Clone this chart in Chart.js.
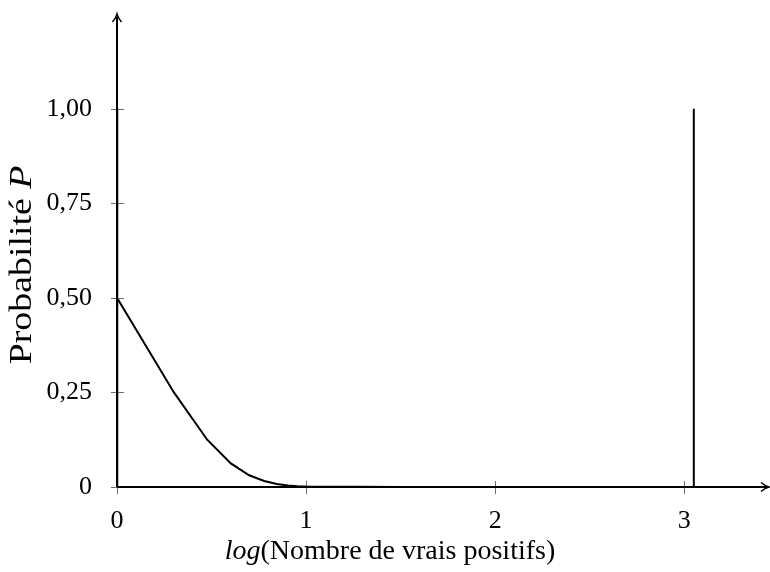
<!DOCTYPE html>
<html>
<head>
<meta charset="utf-8">
<script src="https://cdn.jsdelivr.net/npm/chart.js@4/dist/chart.umd.min.js"></script>
<style>
  html, body { margin: 0; padding: 0; background: #fff; }
  #wrap { width: 770px; height: 572px; }
</style>
</head>
<body>
<div id="wrap"><canvas id="chart"></canvas></div>
<script>
var logPositifs = [0, 0.301, 0.477, 0.602, 0.699, 0.778, 0.845, 0.903, 0.954, 1.0, 1.5, 2.0, 2.5, 3.05, 3.05];
var probabilite = [0.5, 0.25, 0.125, 0.0625, 0.031, 0.016, 0.008, 0.004, 0.002, 0.001, 0, 0, 0, 0, 1];
var spikeX = [0, 0];
var spikeY = [0, 1];
var xTicks = [0, 1, 2, 3];
var yTicks = [0, 0.25, 0.5, 0.75, 1];

var FONT = "'Liberation Serif', 'DejaVu Serif', serif";
var TITLE_SIZE = 28;

function toPoints(xs, ys) {
  return xs.map(function (x, i) { return { x: x, y: ys[i] }; });
}

var axesPlugin = {
  id: 'axes',
  afterDraw: function (chart) {
    var ctx = chart.ctx;
    var xs = chart.scales.x;
    var ys = chart.scales.y;
    var x0 = xs.getPixelForValue(0);
    var y0 = ys.getPixelForValue(0);

    ctx.save();
    // tick marks crossing the axes
    ctx.strokeStyle = '#6e6e6e';
    ctx.lineWidth = 1;
    xTicks.forEach(function (v) {
      var px = Math.round(xs.getPixelForValue(v)) + 0.5;
      ctx.beginPath();
      ctx.moveTo(px, y0 - 6);
      ctx.lineTo(px, y0 + 7);
      ctx.stroke();
    });
    yTicks.forEach(function (v) {
      var py = Math.round(ys.getPixelForValue(v)) + 0.5;
      ctx.beginPath();
      ctx.moveTo(x0 - 6, py);
      ctx.lineTo(x0 + 7, py);
      ctx.stroke();
    });

    // axis lines with arrows
    ctx.strokeStyle = '#000';
    ctx.lineWidth = 2;
    ctx.beginPath();
    ctx.moveTo(x0, y0);
    ctx.lineTo(767, y0);
    ctx.moveTo(x0, y0);
    ctx.lineTo(x0, 17);
    ctx.stroke();

    ctx.lineWidth = 1.5;
    ctx.beginPath();
    ctx.moveTo(761, y0 - 4.5);
    ctx.quadraticCurveTo(765, y0 - 1, 769, y0);
    ctx.quadraticCurveTo(765, y0 + 1, 761, y0 + 4.5);
    ctx.stroke();
    ctx.beginPath();
    ctx.moveTo(x0 - 4.5, 22);
    ctx.quadraticCurveTo(x0 - 1, 18, x0, 14);
    ctx.quadraticCurveTo(x0 + 1, 18, x0 + 4.5, 22);
    ctx.stroke();

    // axis titles
    ctx.fillStyle = '#000';
    ctx.textBaseline = 'middle';
    ctx.textAlign = 'left';
    var italic = 'italic ' + TITLE_SIZE + 'px ' + FONT;
    var roman = TITLE_SIZE + 'px ' + FONT;

    var part1 = 'log';
    var part2 = '(Nombre de vrais positifs)';
    ctx.font = italic;
    var w1 = ctx.measureText(part1).width;
    ctx.font = roman;
    var w2 = ctx.measureText(part2).width;
    var start = 390 - (w1 + w2) / 2;
    ctx.font = italic;
    ctx.fillText(part1, start, 552);
    ctx.font = roman;
    ctx.fillText(part2, start + w1, 552);

    // y title, a little wider like the Computer Modern original
    var ySize = 31;
    var yRoman = ySize + 'px ' + FONT;
    var yItalic = 'italic ' + ySize + 'px ' + FONT;
    ctx.translate(23, 265);
    ctx.rotate(-Math.PI / 2);
    ctx.scale(1.22, 1);
    var t1 = 'Probabilité ';
    var t2 = 'P';
    ctx.font = yRoman;
    var a = ctx.measureText(t1).width;
    ctx.font = yItalic;
    var b = ctx.measureText(t2).width;
    var s = -(a + b) / 2;
    ctx.font = yRoman;
    ctx.fillText(t1, s, 0);
    ctx.font = yItalic;
    ctx.fillText(t2, s + a, 0);
    ctx.restore();
  }
};

new Chart(document.getElementById('chart'), {
  type: 'scatter',
  data: {
    datasets: [{
      data: toPoints(logPositifs, probabilite),
      showLine: true,
      borderColor: '#000',
      borderWidth: 2,
      pointRadius: 0,
      tension: 0
    }, {
      data: toPoints(spikeX, spikeY),
      showLine: true,
      borderColor: '#000',
      borderWidth: 2.5,
      pointRadius: 0
    }]
  },
  options: {
    responsive: true,
    maintainAspectRatio: false,
    animation: false,
    layout: { padding: { top: 0, right: 10, left: 0, bottom: 0 } },
    plugins: {
      legend: { display: false },
      tooltip: { enabled: false }
    },
    scales: {
      x: {
        type: 'linear',
        min: 0,
        max: 3.4,
        afterBuildTicks: function (scale) {
          scale.ticks = xTicks.map(function (v) { return { value: v }; });
        },
        afterFit: function (scale) { scale.height = 85; },
        border: { display: false },
        grid: { display: false, drawTicks: false },
        ticks: {
          color: '#000',
          padding: 19,
          maxRotation: 0,
          font: { family: FONT, size: 26 },
          callback: function (v) { return String(v); }
        }
      },
      y: {
        type: 'linear',
        min: 0,
        max: 1.18,
        afterBuildTicks: function (scale) {
          scale.ticks = yTicks.map(function (v) { return { value: v }; });
        },
        afterFit: function (scale) { scale.width = 117; },
        border: { display: false },
        grid: { display: false, drawTicks: false },
        ticks: {
          color: '#000',
          padding: 25,
          font: { family: FONT, size: 26 },
          callback: function (v) { return v === 0 ? '0' : v.toFixed(2).replace('.', ','); }
        }
      }
    }
  },
  plugins: [axesPlugin]
});
</script>
</body>
</html>
